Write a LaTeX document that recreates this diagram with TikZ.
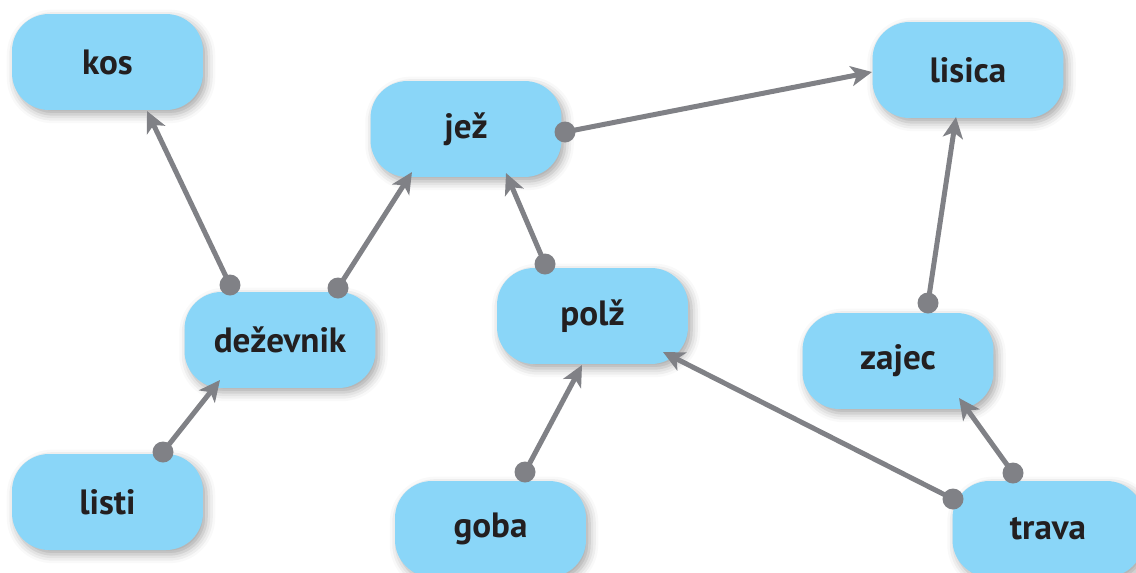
\documentclass[tikz,border=0pt]{standalone}
\usepackage{fontspec}
\setmainfont{PT Sans}
\usetikzlibrary{arrows.meta,shadows.blur}
\definecolor{boxblue}{RGB}{138,214,248}
\definecolor{linkgrey}{RGB}{128,129,134}
\definecolor{textblack}{RGB}{35,31,32}
\tikzset{
  animal/.style={rectangle, rounded corners=0.74cm, fill=boxblue,
    minimum width=3.82cm, minimum height=1.92cm, text=textblack,
    font=\fontsize{20}{24}\selectfont\bfseries,
    blur shadow={shadow xshift=2pt, shadow yshift=-2.5pt,
      shadow blur radius=5pt, shadow opacity=35}},
  link/.style={linkgrey, line width=0.1cm,
    -{Stealth[length=0.42cm,width=0.4cm,inset=0.11cm]}}
}
\begin{document}
\begin{tikzpicture}[x=0.02cm,y=-0.02cm]
    \useasboundingbox (0,0) rectangle (1136,572);
    \node[animal] (kos) at (107.5,62) {kos};
    \node[animal] (jez) at (466,129) {jež};
    \node[animal] (lisica) at (968,70) {lisica};
    \node[animal] (dez) at (280,340) {deževnik};
    \node[animal] (polz) at (592.5,316) {polž};
    \node[animal] (zajec) at (898,361) {zajec};
    \node[animal] (listi) at (107.5,502) {listi};
    \node[animal] (goba) at (490.5,529) {goba};
    \node[animal] (trava) at (1048,529) {trava};
    % who eats whom: source, offset of dot, target, offset of tip
    \foreach \src/\sx/\sy/\dst/\tx/\ty in {
      dez/-50/-55/kos/39.5/49, dez/58/-52/jez/-54/43,
      listi/55.5/-50/dez/-60/40, polz/-47.5/-52/jez/40/44,
      jez/99/3/lisica/-96/2, goba/34.5/-57/polz/-10.5/49,
      trava/-95/-30/polz/70.5/36, zajec/30/-58/lisica/-12/47,
      trava/-35/-56/zajec/61/37} {
      \draw[link] ([shift={(\sx,\sy)}]\src.center)
        -- ([shift={(\tx,\ty)}]\dst.center);
      \fill[linkgrey] ([shift={(\sx,\sy)}]\src.center) circle (0.21cm); }
  \end{tikzpicture}
\end{document}
